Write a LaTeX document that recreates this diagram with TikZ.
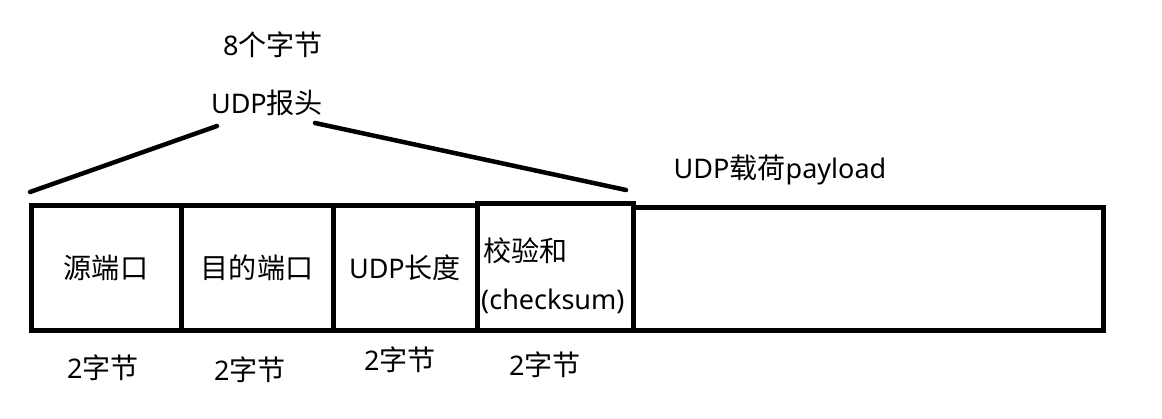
\documentclass[tikz,border=0pt]{standalone}
\usepackage{fontspec}
\setmainfont{Noto Sans}
\newfontfamily\cjk[Scale=1.04]{Noto Sans CJK SC}
\begin{document}
\begin{tikzpicture}[x=1pt,y=-1pt,
  field/.style={draw=black,line width=5pt,rectangle,inner sep=0pt,font=\fontsize{27}{31}\selectfont},
  lbl/.style={inner sep=0pt,font=\fontsize{27}{31}\selectfont},
  brace/.style={draw=black,line width=4.5pt,line cap=round}]
\useasboundingbox (0,0) rectangle (1162,418);
\fill[white] (0,0) rectangle (1162,418);
% fields
\node[field,minimum width=150pt,minimum height=125pt] (src) at (106,267.5) {\cjk 源端口};
\node[field,minimum width=152pt,minimum height=125pt] (dst) at (257,267.5) {\cjk 目的端口};
\node[field,minimum width=144pt,minimum height=125pt] (len) at (405,267.5) {UDP{\cjk 长度}};
\node[field,minimum width=156pt,minimum height=127pt] (chk) at (555,267) {};
\node[field,minimum width=470pt,minimum height=123pt] (pay) at (868,268.5) {};
\node[lbl,anchor=west] (chk1) at (483,251) {\cjk 校验和};
\node[lbl,anchor=west] (chk2) at (481,301) {(checksum)};
% header labels
\node[lbl] (eight) at (273,45) {8{\cjk 个字节}};
\node[lbl] (hdr) at (267,103) {UDP{\cjk 报头}};
\node[lbl] (payl) at (780,170) {UDP{\cjk 载荷}payload};
% brace lines
\coordinate (a1) at (30,192);
\coordinate (a2) at (217,126);
\coordinate (b1) at (315,123);
\coordinate (b2) at (626,190);
\draw[brace] (a1) -- (a2);
\draw[brace] (b1) -- (b2);
% byte labels
\node[lbl] (s1) at (103,368) {2{\cjk 字节}};
\node[lbl] (s2) at (250,370) {2{\cjk 字节}};
\node[lbl] (s3) at (400,360) {2{\cjk 字节}};
\node[lbl] (s4) at (545,365) {2{\cjk 字节}};
\end{tikzpicture}
\end{document}
